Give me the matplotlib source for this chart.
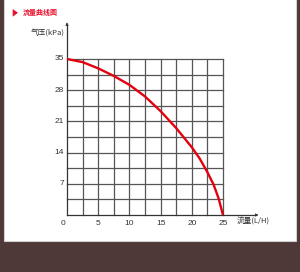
import matplotlib
matplotlib.use("Agg")
import matplotlib.pyplot as plt
from matplotlib.patches import Rectangle, Polygon

# Data
flow = [0, 2.5, 5, 7.5, 10, 12.5, 15, 17.5, 20, 21.25, 22.5, 23.5, 24.3, 25]
pressure = [35, 34.3, 32.9, 31.2, 29.2, 26.6, 23.3, 19.5, 15.2, 12.7, 9.6, 6.8, 3.7, 0]
x_ticks = [0, 5, 10, 15, 20, 25]
y_ticks = [7, 14, 21, 28, 35]
title = "流量曲线图"
xlabel = "流量(L/H)"
ylabel = "气压(kPa)"

W, H = 300, 272
fig = plt.figure(figsize=(W / 100, H / 100), dpi=100)
fig.patch.set_facecolor("#4f3838")

# white panel
fig.patches.append(Rectangle((4 / W, 1 - 241 / H), 292 / W, 241 / H + 0.01,
                             transform=fig.transFigure, facecolor="white",
                             edgecolor="#cfcfcf", linewidth=0.8, zorder=-10))

# title triangle and text
fig.patches.append(Polygon([[12.7 / W, 1 - 9 / H], [12.7 / W, 1 - 16.7 / H], [18 / W, 1 - 12.8 / H]],
                           closed=True, transform=fig.transFigure, facecolor="#e8112d",
                           edgecolor="none", zorder=2))
cjk = ["Noto Sans CJK SC", "DejaVu Sans"]
fig.text(23 / W, 1 - 12.8 / H, title, color="#e8112d", fontsize=5, fontweight="bold",
         family=cjk, ha="left", va="center")

x0, x1 = 67, 223
y0, y1 = 215, 59
ax = fig.add_axes([x0 / W, 1 - y0 / H, (x1 - x0) / W, (y0 - y1) / H])
ax.set_zorder(5)
ax.set_xlim(0, 25)
ax.set_ylim(0, 35)
ax.patch.set_visible(False)
for s in ax.spines.values():
    s.set_visible(False)
ax.set_xticks([])
ax.set_yticks([])

# grid
gx = [i * 2.5 for i in range(1, 11)]
gy = [i * 3.5 for i in range(1, 11)]
for g in gx:
    ax.plot([g, g], [0, 35], color="#555555", lw=0.9, zorder=1, clip_on=False)
for g in gy:
    ax.plot([0, 25], [g, g], color="#555555", lw=0.9, zorder=1, clip_on=False)

# axes with arrows
ytop = 35 + (y1 - 25) / (y0 - y1) * 35
xright = 25 + (256 - x1) / (x1 - x0) * 25
ax.plot([0, 0], [0, ytop], color="#333333", lw=0.9, clip_on=False, zorder=2)
ax.plot([0, xright], [0, 0], color="#333333", lw=0.9, clip_on=False, zorder=2)
ax.annotate("", xy=(0, ytop + 0.6), xytext=(0, ytop - 0.6),
            arrowprops=dict(arrowstyle="-|>", color="#333333", lw=0.6,
                            mutation_scale=4), annotation_clip=False)
ax.annotate("", xy=(xright + 0.4, 0), xytext=(xright - 0.4, 0),
            arrowprops=dict(arrowstyle="-|>", color="#333333", lw=0.6,
                            mutation_scale=4), annotation_clip=False)

# curve
ax.plot(flow, pressure, color="#e3000f", lw=1.7, clip_on=False, zorder=3,
        solid_capstyle="butt", solid_joinstyle="round")

num_font = "Liberation Sans"
for t in x_ticks:
    xp = t if t != 0 else -0.6
    ax.text(xp, -1.9, str(t), fontsize=6, family=num_font, color="#333333",
            ha="center", va="center")
for t in y_ticks:
    ax.text(-0.5, t, str(t), fontsize=6, family=num_font, color="#333333",
            ha="right", va="center")

fig.text(48 / W, 1 - 34 / H, ylabel, fontsize=5.5, family=cjk, color="#333333",
         ha="center", va="center")
fig.text(253 / W, 1 - 221.7 / H, xlabel, fontsize=5.5, family=cjk, color="#333333",
         ha="center", va="center")

fig.savefig("out.png", dpi=100, facecolor=fig.get_facecolor())
